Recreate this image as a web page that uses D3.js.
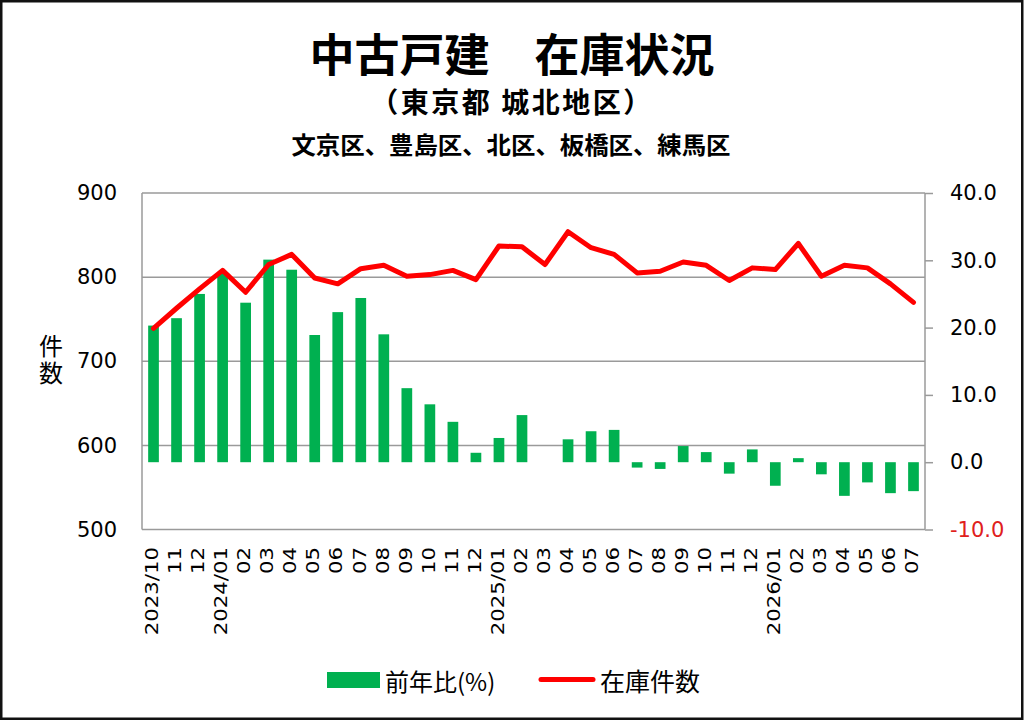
<!DOCTYPE html>
<html>
<head>
<meta charset="utf-8">
<script src="https://cdn.jsdelivr.net/npm/d3@7"></script>
<style>
  html, body { margin: 0; padding: 0; background: #fff; }
  svg { display: block; }
</style>
</head>
<body>
<svg id="chart" width="1024" height="721"></svg>
<script>
// ---- data ----
const categories = ["2023/10","11","12","2024/01","02","03","04","05","06","07","08","09","10","11","12",
  "2025/01","02","03","04","05","06","07","08","09","10","11","12","2026/01","02","03","04","05","06","07"];
const yoyPct = [20.3,21.4,25.0,28.1,23.7,30.1,28.6,18.9,22.3,24.4,19.0,11.0,8.6,6.0,1.4,3.6,7.0,null,
  3.4,4.6,4.8,-0.8,-1.0,2.4,1.5,-1.7,1.9,-3.5,0.6,-1.8,-5.0,-3.0,-4.6,-4.3];
const inventory = [739,763,786,808,782,815,827,799,792,810,814,801,803,808,797,837,836,815,
  854,835,827,805,807,818,814,796,811,809,840,801,814,811,792,770];
const leftTicks = [500,600,700,800,900];
const rightTicks = [-10,0,10,20,30,40];
const titleText = "中古戸建　在庫状況";
const subtitleText = "（東京都 城北地区）";
const wardsText = "文京区、豊島区、北区、板橋区、練馬区";
const leftAxisTitle = "件数";
const legendBar = "前年比(%)";
const legendLine = "在庫件数";

// ---- layout ----
const svg = d3.select("#chart");
const L = 142, R = 925, T = 193, B = 529.5;
const GREEN = "#00B050", RED = "#FF0000", GRID = "#9a9a9a";
const cjk = "'Noto Sans CJK JP', 'Noto Sans', sans-serif";
const num = "'DejaVu Sans', sans-serif";

const x = d3.scaleBand().domain(d3.range(categories.length)).range([L, R]).paddingInner(0.535).paddingOuter(0.2675);
const yL = d3.scaleLinear().domain([500, 900]).range([B, T]);
const yR = d3.scaleLinear().domain([-10, 40]).range([B, T]);

// outer frame
svg.append("rect").attr("x", 1.25).attr("y", 1.25).attr("width", 1021).attr("height", 717.5)
  .attr("fill", "none").attr("stroke", "#111").attr("stroke-width", 2.5);

// titles
svg.append("text").attr("x", 512).attr("y", 52).attr("text-anchor", "middle").attr("dominant-baseline", "central")
  .attr("font-family", cjk).attr("font-weight", 700).attr("font-size", 45).attr("fill", "#000").text(titleText);
svg.append("text").attr("x", 512).attr("y", 101).attr("text-anchor", "middle").attr("dominant-baseline", "central")
  .attr("font-family", cjk).attr("font-weight", 700).attr("font-size", 28).attr("letter-spacing", 2.5)
  .attr("fill", "#000").text(subtitleText);
svg.append("text").attr("x", 511).attr("y", 143).attr("text-anchor", "middle").attr("dominant-baseline", "central")
  .attr("font-family", cjk).attr("font-weight", 700).attr("font-size", 24.4).attr("fill", "#000").text(wardsText);

// gridlines (left axis)
svg.append("g").selectAll("line").data(leftTicks).join("line")
  .attr("x1", L).attr("x2", R).attr("y1", d => yL(d)).attr("y2", d => yL(d))
  .attr("stroke", GRID).attr("stroke-width", 1.5);
svg.append("line").attr("x1", L).attr("x2", L).attr("y1", T).attr("y2", B).attr("stroke", GRID).attr("stroke-width", 1.5);

// left axis
const gL = svg.append("g").attr("transform", `translate(${L},0)`)
  .call(d3.axisLeft(yL).tickValues(leftTicks).tickSize(0).tickPadding(25).tickFormat(d => String(d)));
gL.select(".domain").remove();
gL.selectAll("text").attr("font-family", num).attr("font-size", 21).attr("fill", "#000");

// right axis
const gR = svg.append("g").attr("transform", `translate(${R},0)`)
  .call(d3.axisRight(yR).tickValues(rightTicks).tickSize(8).tickPadding(17).tickFormat(d => d.toFixed(1)));
gR.select(".domain").attr("stroke", GRID).attr("stroke-width", 1.5).attr("d", `M0,${T}V${B}`);
gR.selectAll(".tick line").attr("stroke", GRID).attr("stroke-width", 1.5);
gR.selectAll("text").attr("font-family", num).attr("font-size", 21)
  .attr("fill", d => d < 0 ? "#e0201c" : "#000");

// bars
svg.append("g").selectAll("rect").data(yoyPct.map((v, i) => ({v, i})).filter(d => d.v !== null)).join("rect")
  .attr("x", d => x(d.i)).attr("width", x.bandwidth())
  .attr("y", d => Math.min(yR(0), yR(d.v))).attr("height", d => Math.abs(yR(d.v) - yR(0)))
  .attr("fill", GREEN);

// line
const line = d3.line().x((d, i) => x(i) + x.bandwidth() / 2).y(d => yL(d));
svg.append("path").datum(inventory).attr("d", line).attr("fill", "none")
  .attr("stroke", RED).attr("stroke-width", 5).attr("stroke-linejoin", "round").attr("stroke-linecap", "round");

// x labels
svg.append("g").selectAll("text").data(categories).join("text")
  .attr("transform", (d, i) => `translate(${x(i) + x.bandwidth() / 2 - 1},547) rotate(-90) scale(1.25,1)`)
  .attr("text-anchor", "end").attr("dominant-baseline", "central")
  .attr("font-family", num).attr("font-size", 17).attr("fill", "#000").text(d => d);

// left axis title (vertical)
svg.append("text").attr("x", 51).attr("y", 334)
  .style("writing-mode", "vertical-rl").style("text-orientation", "upright")
  .attr("letter-spacing", 3)
  .attr("font-family", cjk).attr("font-size", 24).attr("fill", "#000").text(leftAxisTitle);

// legend
svg.append("rect").attr("x", 327).attr("y", 672).attr("width", 53).attr("height", 16).attr("fill", GREEN);
svg.append("text").attr("x", 385).attr("y", 680).attr("dominant-baseline", "central")
  .attr("font-family", cjk).attr("font-size", 24).attr("fill", "#000").text(legendBar);
svg.append("line").attr("x1", 541).attr("x2", 593).attr("y1", 679.5).attr("y2", 679.5)
  .attr("stroke", RED).attr("stroke-width", 5).attr("stroke-linecap", "round");
svg.append("text").attr("x", 600).attr("y", 680).attr("dominant-baseline", "central")
  .attr("font-family", cjk).attr("font-size", 25).attr("fill", "#000").text(legendLine);
</script>
</body>
</html>
